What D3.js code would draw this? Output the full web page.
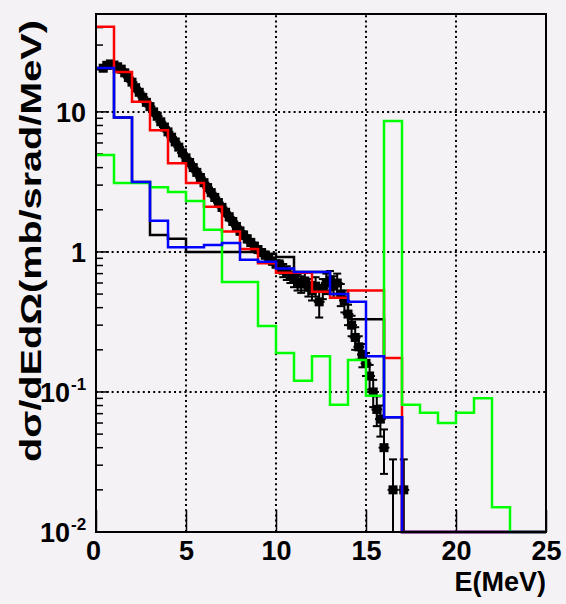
<!DOCTYPE html>
<html>
<head>
<meta charset="utf-8">
<script src="https://cdn.jsdelivr.net/npm/d3@7"></script>
<style>
  html, body { margin: 0; padding: 0; background: #f5f2f6; }
  svg { display: block; }
  text { font-family: "Liberation Sans", Arial, sans-serif; font-weight: bold; fill: #000; }
</style>
</head>
<body>
<svg id="chart" width="566" height="604"></svg>
<script>
// Energy bin edges of the model histograms (1 MeV bins, 0..25 MeV)
const binEdges = d3.range(0, 26, 1);

// Model cross sections per bin (mb/srad/MeV); 0 = empty bin
const redModel   = [40.5, 19.3, 11.8, 7.4, 4.3, 3.1, 2.1, 1.4, 1.05, 0.83, 0.71, 0.71, 0.52, 0.47, 0.53, 0.53, 0.175, 0, 0, 0, 0, 0, 0, 0, 0];
const blueModel  = [20.6, 9.1, 3.16, 1.67, 1.08, 1.08, 1.12, 1.16, 0.88, 0.85, 0.76, 0.72, 0.72, 0.5, 0.44, 0.18, 0.066, 0, 0, 0, 0, 0, 0, 0, 0];
const blackModel = [20.6, 9.1, 3.16, 1.32, 1.24, 1.0, 1.0, 1.0, 1.0, 0.97, 0.92, 0.72, 0.72, 0.5, 0.33, 0.33, 0.066, 0, 0, 0, 0, 0, 0, 0, 0];
const greenModel = [4.93, 3.11, 3.11, 2.9, 2.68, 2.31, 1.44, 0.61, 0.61, 0.296, 0.19, 0.12, 0.18, 0.081, 0.169, 0.094, 8.6, 0.081, 0.071, 0.06, 0.071, 0.09, 0.015, 0, 0];

// Measured spectrum: energy (MeV), value and statistical error
const dataE = [0.4, 0.6, 0.8, 1.0, 1.2, 1.4, 1.6, 1.8, 2.0, 2.2, 2.4, 2.6, 2.8, 3.0, 3.2, 3.4, 3.6, 3.8, 4.0, 4.2,
               4.4, 4.6, 4.8, 5.0, 5.2, 5.4, 5.6, 5.8, 6.0, 6.2, 6.4, 6.6, 6.8, 7.0, 7.2, 7.4, 7.6, 7.8, 8.0, 8.2,
               8.4, 8.6, 8.8, 9.0, 9.2, 9.4, 9.6, 9.8, 10.0, 10.2, 10.4, 10.6, 10.8, 11.0, 11.2, 11.4, 11.6, 11.8, 12.0, 12.2,
               12.4, 12.6, 12.8, 13.0, 13.2, 13.4, 13.6, 13.8, 14.0, 14.2, 14.4, 14.6, 14.8, 15.0, 15.2, 15.4, 15.6, 15.8, 16.0, 16.5,
               17.1];
const dataV = [20.5, 21.5, 22.0, 21.6, 21.0, 20.2, 19.0, 17.6, 16.3, 14.9, 13.8, 12.7, 11.7, 10.9, 10.0, 9.3, 8.5, 7.8, 7.2, 6.6,
               6.1, 5.6, 5.1, 4.7, 4.35, 4.0, 3.7, 3.4, 3.12, 2.88, 2.65, 2.45, 2.25, 2.08, 1.92, 1.78, 1.65, 1.52, 1.41, 1.32,
               1.24, 1.17, 1.10, 1.04, 0.99, 0.95, 0.90, 0.86, 0.82, 0.80, 0.74, 0.71, 0.68, 0.64, 0.61, 0.59, 0.62, 0.56, 0.53, 0.57,
               0.44, 0.55, 0.60, 0.63, 0.57, 0.60, 0.50, 0.45, 0.36, 0.30, 0.245, 0.21, 0.185, 0.16, 0.13, 0.10, 0.075, 0.064, 0.040, 0.020,
               0.020];
const dataErr = [0.8, 0.8, 0.9, 0.9, 0.8, 0.8, 0.8, 0.7, 0.7, 0.6, 0.6, 0.5, 0.5, 0.5, 0.4, 0.4, 0.4, 0.35, 0.3, 0.3,
                 0.3, 0.25, 0.25, 0.22, 0.2, 0.2, 0.18, 0.17, 0.16, 0.15, 0.14, 0.13, 0.12, 0.11, 0.1, 0.1, 0.09, 0.085, 0.08, 0.075,
                 0.07, 0.065, 0.06, 0.058, 0.055, 0.053, 0.05, 0.048, 0.046, 0.07, 0.08, 0.08, 0.08, 0.08, 0.08, 0.08, 0.09, 0.08, 0.08, 0.09,
                 0.1, 0.09, 0.1, 0.1, 0.1, 0.1, 0.09, 0.08, 0.06, 0.05, 0.045, 0.04, 0.035, 0.03, 0.026, 0.022, 0.018, 0.016, 0.014, 0.013,
                 0.013];

// Axis ticks
const xTicks = [0, 5, 10, 15, 20, 25];
const yDecades = [0.01, 0.1, 1, 10];
const yTickLabels = [["10", "-2"], ["10", "-1"], ["1", ""], ["10", ""]];

const svg = d3.select("#chart");
const L = 96, R = 546, T = 14, B = 532;
const x = d3.scaleLinear().domain([0, 25]).range([L, R]);
const y = d3.scaleLog().domain([0.01, 50]).range([B, T]);
const yMin = 0.01, yMax = 50;
const clampV = v => Math.min(yMax, Math.max(yMin, v));

// Dotted grid
const grid = svg.append("g").attr("stroke", "#000").attr("stroke-width", 2).attr("stroke-dasharray", "2,3.2");
[5, 10, 15, 20].forEach(e => grid.append("line").attr("x1", x(e)).attr("x2", x(e)).attr("y1", B).attr("y2", T));
[0.1, 1, 10].forEach(v => grid.append("line").attr("x1", L).attr("x2", R).attr("y1", y(v)).attr("y2", y(v)));

// X axis: ticks drawn inward from the bottom frame
const xAxis = d3.axisBottom(x).tickValues(xTicks).tickSizeInner(-22).tickSizeOuter(0).tickPadding(19).tickFormat(d3.format("d"));
const gx = svg.append("g").attr("transform", `translate(0,${B})`).call(xAxis);
gx.select(".domain").remove();
gx.selectAll(".tick line").attr("stroke", "#000").attr("stroke-width", 1.5);
gx.selectAll(".tick text").attr("font-size", 27).attr("dy", "0.35em").attr("font-family", "Liberation Sans, Arial, sans-serif").attr("font-weight", "bold");
gx.selectAll(".tick").filter(d => d === 0).select("text").attr("dx", -3);

// Y axis: major and minor log ticks drawn inward from the left frame
const yTickG = svg.append("g").attr("stroke", "#000").attr("stroke-width", 1.5);
yDecades.forEach(d => {
  for (let k = 1; k <= 9; k++) {
    const v = d * k;
    if (v > yMax) break;
    const len = k === 1 ? 13 : 7;
    yTickG.append("line").attr("x1", L).attr("x2", L + len).attr("y1", y(v)).attr("y2", y(v));
  }
});

// Y tick labels with superscript exponents
yDecades.forEach((d, i) => {
  const [base, exp] = yTickLabels[i];
  svg.append("text").attr("x", exp ? 70 : 86).attr("y", y(d) + 10)
    .attr("text-anchor", "end").attr("font-size", 27).text(base);
  if (exp) {
    svg.append("text").attr("x", 71).attr("y", y(d) - 2).attr("text-anchor", "start").attr("font-size", 17).text(exp);
  }
});

// Measured points with error bars
const dataG = svg.append("g");
dataE.forEach((e, i) => {
  const v = dataV[i], er = dataErr[i];
  const cx = x(e), cy = y(v);
  const yHi = y(clampV(v + er)), yLo = y(clampV(v - er));
  dataG.append("line").attr("x1", cx).attr("x2", cx).attr("y1", yHi).attr("y2", yLo).attr("stroke", "#000").attr("stroke-width", 2);
  dataG.append("line").attr("x1", cx - 4).attr("x2", cx + 4).attr("y1", yHi).attr("y2", yHi).attr("stroke", "#000").attr("stroke-width", 2);
  if (v - er > yMin) dataG.append("line").attr("x1", cx - 4).attr("x2", cx + 4).attr("y1", yLo).attr("y2", yLo).attr("stroke", "#000").attr("stroke-width", 2);
  dataG.append("line").attr("x1", x(e - 0.3)).attr("x2", x(e + 0.3)).attr("y1", cy).attr("y2", cy).attr("stroke", "#000").attr("stroke-width", 2);
  dataG.append("rect").attr("x", cx - 4.5).attr("y", cy - 4.5).attr("width", 9).attr("height", 9).attr("fill", "#000");
});

// Model histograms as step lines
const stepLine = d3.line().x(d => x(d[0])).y(d => y(clampV(d[1]))).curve(d3.curveStepAfter);
function histPoints(vals) {
  const pts = vals.map((v, i) => [binEdges[i], v]);
  pts.push([binEdges[vals.length], vals[vals.length - 1]]);
  return pts;
}
[[blackModel, "#000000"], [redModel, "#ff0000"], [greenModel, "#00ff00"], [blueModel, "#0000ff"]].forEach(([vals, col]) => {
  svg.append("path").attr("d", stepLine(histPoints(vals))).attr("fill", "none").attr("stroke", col).attr("stroke-width", 2.5);
});

// Frame
svg.append("rect").attr("x", L).attr("y", T).attr("width", R - L).attr("height", B - T)
  .attr("fill", "none").attr("stroke", "#000").attr("stroke-width", 2);

// Axis titles
svg.append("text").attr("x", R).attr("y", 591).attr("text-anchor", "end").attr("font-size", 27).text("E(MeV)");
svg.append("text").attr("transform", `translate(41,20) rotate(-90)`).attr("text-anchor", "end")
  .attr("font-size", 30).attr("textLength", 442).attr("lengthAdjust", "spacingAndGlyphs")
  .text("dσ/dEdΩ(mb/srad/MeV)");
</script>
</body>
</html>
